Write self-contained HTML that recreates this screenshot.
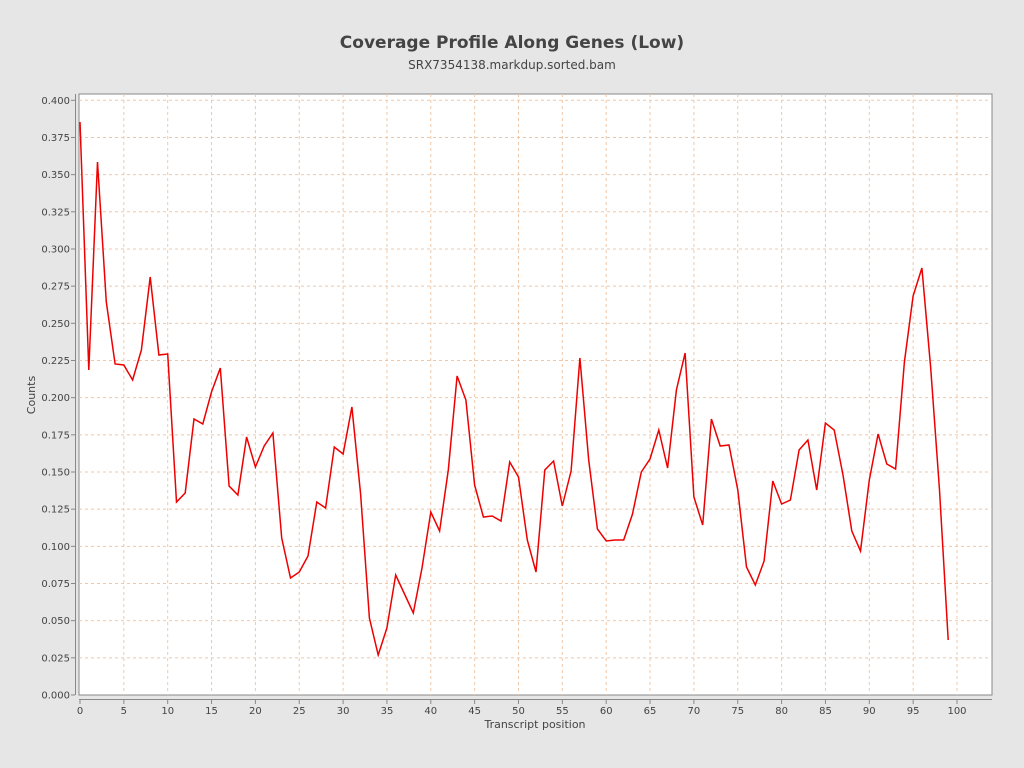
<!DOCTYPE html>
<html><head><meta charset="utf-8"><style>
body{margin:0;background:#e6e6e6;}
svg{display:block;font-family:"DejaVu Sans","Liberation Sans",sans-serif;}
</style></head><body>
<svg width="1024" height="768" xmlns="http://www.w3.org/2000/svg">
<rect width="1024" height="768" fill="#e6e6e6"/>
<text x="512" y="48" text-anchor="middle" font-size="17" font-weight="bold" fill="#444">Coverage Profile Along Genes (Low)</text>
<text x="512" y="69" text-anchor="middle" font-size="12" fill="#444">SRX7354138.markdup.sorted.bam</text>
<rect x="79" y="94" width="913" height="601" fill="#fff" stroke="#888"/>
<g id="grid" stroke="#f0c8a8" stroke-dasharray="3,3" stroke-width="1"></g>
<line x1="75.5" y1="94" x2="75.5" y2="695" stroke="#888"/>
<line x1="79" y1="699.5" x2="992" y2="699.5" stroke="#888"/>
<g id="ticks" font-size="10" fill="#444"></g>
<text x="535" y="728" text-anchor="middle" font-size="11" fill="#444">Transcript position</text>
<text x="35" y="395" text-anchor="middle" font-size="11" fill="#444" transform="rotate(-90 35 395)">Counts</text>
<polyline id="line" fill="none" stroke="#ee0000" stroke-width="1.5"/>
</svg>
<script>
var ys=[122,370,162,302,364,365,380,350,277,355,354,502,493,419,424,392,368,486,495,437,467,446,433,538,578,572,556,502,508,447,454,407,494,618,655,628,575,594,613,568,512,531,470,376,400,485,517,516,521,462,477,540,572,470,461,506,471,358,460,529,541,540,540,514,472,459,430,468,390,353,497,525,419,446,445,490,567,585,561,481,504,500,450,440,490,423,430,475,531,551,480,434,464,469,362,296,268,368,490,640];
var p=ys.map(function(y,i){return (80+8.77*i).toFixed(1)+","+y}).join(" ");
document.getElementById("line").setAttribute("points",p);
var ns="http://www.w3.org/2000/svg",g=document.getElementById("grid"),t=document.getElementById("ticks");
function el(par,n,a,txt){var e=document.createElementNS(ns,n);for(var k in a)e.setAttribute(k,a[k]);if(txt!=null)e.textContent=txt;par.appendChild(e);}
for(var i=0;i<=100;i+=5){var x=80+8.77*i;
 if(i>0&&x<992)el(g,"line",{x1:x,y1:94,x2:x,y2:695});
 el(t,"line",{x1:x,y1:700,x2:x,y2:704,stroke:"#888"});
 el(t,"text",{x:x,y:714,"text-anchor":"middle"},String(i));}
for(var j=0;j<=16;j++){var v=j*0.025,y=695-v*1486.75;
 if(j>0)el(g,"line",{x1:79,y1:y,x2:992,y2:y});
 el(t,"line",{x1:71,y1:y,x2:75,y2:y,stroke:"#888"});
 el(t,"text",{x:70,y:y+3.5,"text-anchor":"end"},v.toFixed(3));}
</script>
</body></html>
